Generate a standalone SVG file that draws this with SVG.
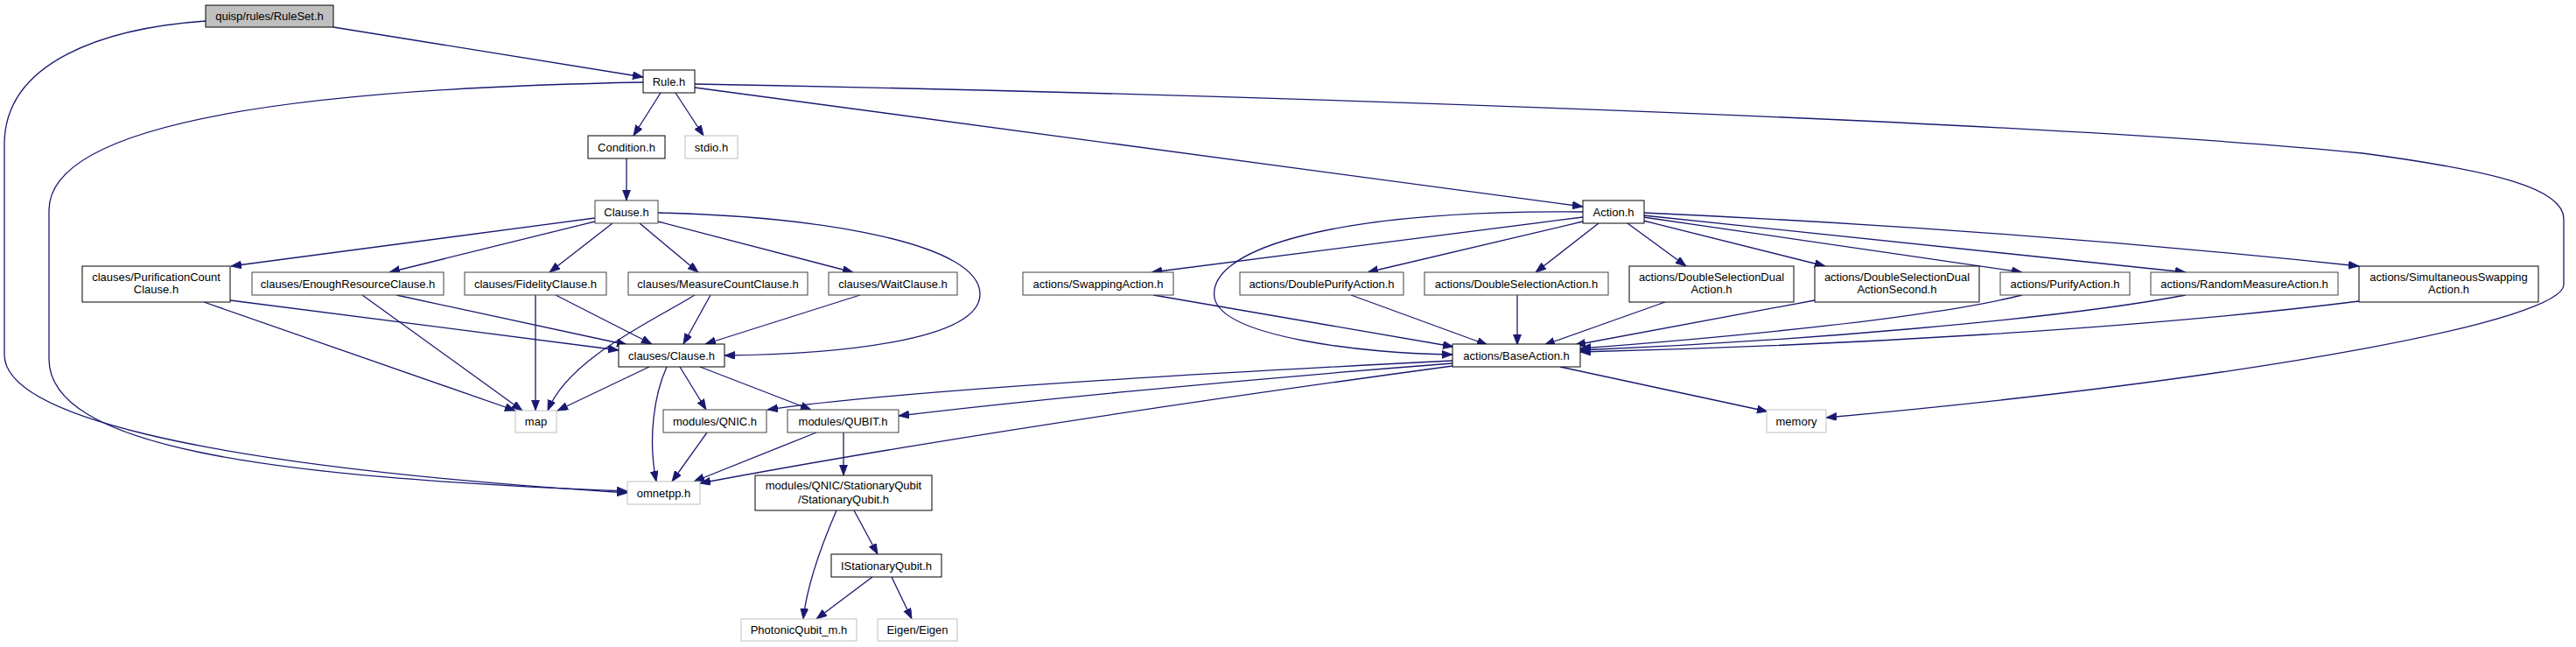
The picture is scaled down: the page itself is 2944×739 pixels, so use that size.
<svg xmlns="http://www.w3.org/2000/svg" width="2944" height="739" viewBox="0 0 2944 739">
<defs>
<style>
.n rect{fill:#fff;stroke:#000;stroke-width:1}
.n.g rect{stroke:#404040}
.n.x rect{stroke:#bfbfbf}
.n.root rect{fill:#bfbfbf;stroke:#000}
.n text{font-family:"Liberation Sans",Arial,Helvetica,sans-serif;font-size:13px;fill:#000;text-anchor:middle}
#edges path{fill:none;stroke:#191970;stroke-width:1.3;marker-end:url(#ah)}
</style>
<marker id="ah" markerUnits="userSpaceOnUse" markerWidth="13" markerHeight="10" refX="12" refY="4.5" orient="auto" viewBox="0 0 13 10">
<path d="M0,0 L12,4.5 L0,9 z" fill="#191970" stroke="#191970" stroke-width="0.8"/>
</marker>
</defs>
<rect width="2944" height="739" fill="#fff"/>
<g id="edges">
<path d="M381,31 L735,88"/>
<path d="M235,24 C120,32 5,70 5,165 L5,405 C5,470 200,530 717,563"/>
<path d="M735,94 C400,100 56,130 56,240 L56,410 C56,510 300,545 717,561"/>
<path d="M755,106 L724,155"/>
<path d="M772,106 L804,155"/>
<path d="M794,100 L1809,236"/>
<path d="M794,96 C1300,105 2300,135 2700,175 C2850,195 2930,215 2930,250 L2930,325 C2930,365 2600,430 2087,477"/>
<path d="M716,181 L716,229"/>
<path d="M680,249 L264,304"/>
<path d="M680,253 L445,311"/>
<path d="M700,255 L628,311"/>
<path d="M731,255 L798,311"/>
<path d="M752,253 L975,311"/>
<path d="M752,243 C950,248 1120,280 1120,336 C1120,390 950,405 828,406"/>
<path d="M233,345 L589,469"/>
<path d="M263,343 L707,400"/>
<path d="M414,337 L597,469"/>
<path d="M453,337 L717,394"/>
<path d="M612,337 L612,469"/>
<path d="M635,337 L745,393"/>
<path d="M794,337 C740,370 650,410 626,469"/>
<path d="M812,337 L781,393"/>
<path d="M983,337 L806,393"/>
<path d="M742,419 L637,469"/>
<path d="M762,419 C748,450 740,500 750,550"/>
<path d="M777,419 L807,468"/>
<path d="M800,419 L927,468"/>
<path d="M808,494 L768,550"/>
<path d="M933,494 L793,550"/>
<path d="M964,494 L964,543"/>
<path d="M956,583 C940,620 922,670 918,707"/>
<path d="M976,583 L1003,633"/>
<path d="M997,659 L933,707"/>
<path d="M1019,659 L1042,707"/>
<path d="M1809,248 L1316,311"/>
<path d="M1809,242 C1500,240 1380,290 1388,340 C1396,385 1560,404 1660,405"/>
<path d="M1809,253 L1563,311"/>
<path d="M1827,255 L1755,311"/>
<path d="M1860,255 L1927,304"/>
<path d="M1878,252 L2086,304"/>
<path d="M1878,248 L2311,311"/>
<path d="M1878,246 L2498,311"/>
<path d="M1878,243 Q2300,262 2696,304"/>
<path d="M1318,337 L1661,396"/>
<path d="M1544,337 L1700,394"/>
<path d="M1734,337 L1734,394"/>
<path d="M1903,345 L1765,394"/>
<path d="M2074,343 L1800,394"/>
<path d="M2311,337 C2200,365 1950,387 1806,398"/>
<path d="M2498,337 C2350,365 2050,390 1806,400"/>
<path d="M2696,344 C2450,375 2100,395 1806,402"/>
<path d="M1783,419 L2020,470"/>
<path d="M1660,412 C1300,430 1000,450 877,468"/>
<path d="M1660,415 C1400,435 1150,460 1027,475"/>
<path d="M1660,418 C1350,460 1050,505 800,552"/>
</g>
<g id="n_ruleset" class="n root"><rect x="235" y="6" width="146" height="25"/><text x="308" y="23">quisp/rules/RuleSet.h</text></g>
<g id="n_rule" class="n"><rect x="735" y="80" width="59" height="26"/><text x="764.5" y="97.5">Rule.h</text></g>
<g id="n_condition" class="n"><rect x="672" y="155" width="88" height="26"/><text x="716" y="172.5">Condition.h</text></g>
<g id="n_stdio" class="n x"><rect x="783" y="155" width="60" height="26"/><text x="813" y="172.5">stdio.h</text></g>
<g id="n_clause" class="n g"><rect x="680" y="229" width="72" height="26"/><text x="716" y="246.5">Clause.h</text></g>
<g id="n_action" class="n"><rect x="1809" y="229" width="70" height="26"/><text x="1844" y="246.5">Action.h</text></g>
<g id="n_purcount" class="n"><rect x="94" y="304" width="169" height="41"/><text x="178.5" y="321">clauses/PurificationCount</text><text x="178.5" y="335">Clause.h</text></g>
<g id="n_enough" class="n g"><rect x="288" y="311" width="219" height="26"/><text x="397.5" y="328.5">clauses/EnoughResourceClause.h</text></g>
<g id="n_fidelity" class="n g"><rect x="531" y="311" width="162" height="26"/><text x="612" y="328.5">clauses/FidelityClause.h</text></g>
<g id="n_measurecount" class="n g"><rect x="718" y="311" width="205" height="26"/><text x="820.5" y="328.5">clauses/MeasureCountClause.h</text></g>
<g id="n_wait" class="n g"><rect x="947" y="311" width="147" height="26"/><text x="1020.5" y="328.5">clauses/WaitClause.h</text></g>
<g id="n_swapping" class="n g"><rect x="1169" y="311" width="172" height="26"/><text x="1255" y="328.5">actions/SwappingAction.h</text></g>
<g id="n_dpurify" class="n g"><rect x="1417" y="311" width="187" height="26"/><text x="1510.5" y="328.5">actions/DoublePurifyAction.h</text></g>
<g id="n_dselection" class="n g"><rect x="1628" y="311" width="210" height="26"/><text x="1733" y="328.5">actions/DoubleSelectionAction.h</text></g>
<g id="n_dsdual" class="n"><rect x="1862" y="304" width="188" height="41"/><text x="1956" y="321">actions/DoubleSelectionDual</text><text x="1956" y="335">Action.h</text></g>
<g id="n_dsdualsecond" class="n"><rect x="2074" y="304" width="188" height="41"/><text x="2168" y="321">actions/DoubleSelectionDual</text><text x="2168" y="335">ActionSecond.h</text></g>
<g id="n_purify" class="n g"><rect x="2286" y="311" width="148" height="26"/><text x="2360" y="328.5">actions/PurifyAction.h</text></g>
<g id="n_randmeasure" class="n g"><rect x="2458" y="311" width="214" height="26"/><text x="2565" y="328.5">actions/RandomMeasureAction.h</text></g>
<g id="n_simswap" class="n"><rect x="2696" y="304" width="205" height="41"/><text x="2798.5" y="321">actions/SimultaneousSwapping</text><text x="2798.5" y="335">Action.h</text></g>
<g id="n_clausesclause" class="n"><rect x="707" y="393" width="121" height="26"/><text x="767.5" y="410.5">clauses/Clause.h</text></g>
<g id="n_baseaction" class="n"><rect x="1660" y="393" width="146" height="26"/><text x="1733" y="410.5">actions/BaseAction.h</text></g>
<g id="n_map" class="n x"><rect x="589" y="469" width="47" height="25"/><text x="612.5" y="486">map</text></g>
<g id="n_qnic" class="n g"><rect x="758" y="468" width="118" height="26"/><text x="817" y="485.5">modules/QNIC.h</text></g>
<g id="n_qubit" class="n g"><rect x="900" y="468" width="127" height="26"/><text x="963.5" y="485.5">modules/QUBIT.h</text></g>
<g id="n_memory" class="n x"><rect x="2019" y="468" width="68" height="26"/><text x="2053" y="485.5">memory</text></g>
<g id="n_omnetpp" class="n x"><rect x="717" y="550" width="83" height="26"/><text x="758.5" y="567.5">omnetpp.h</text></g>
<g id="n_stationary" class="n"><rect x="863" y="543" width="202" height="40"/><text x="964" y="559">modules/QNIC/StationaryQubit</text><text x="964" y="574.5">/StationaryQubit.h</text></g>
<g id="n_istationary" class="n"><rect x="950" y="633" width="126" height="26"/><text x="1013" y="650.5">IStationaryQubit.h</text></g>
<g id="n_photonic" class="n x"><rect x="847" y="707" width="132" height="25"/><text x="913" y="724">PhotonicQubit_m.h</text></g>
<g id="n_eigen" class="n x"><rect x="1003" y="707" width="91" height="25"/><text x="1048.5" y="724">Eigen/Eigen</text></g>
</svg>
